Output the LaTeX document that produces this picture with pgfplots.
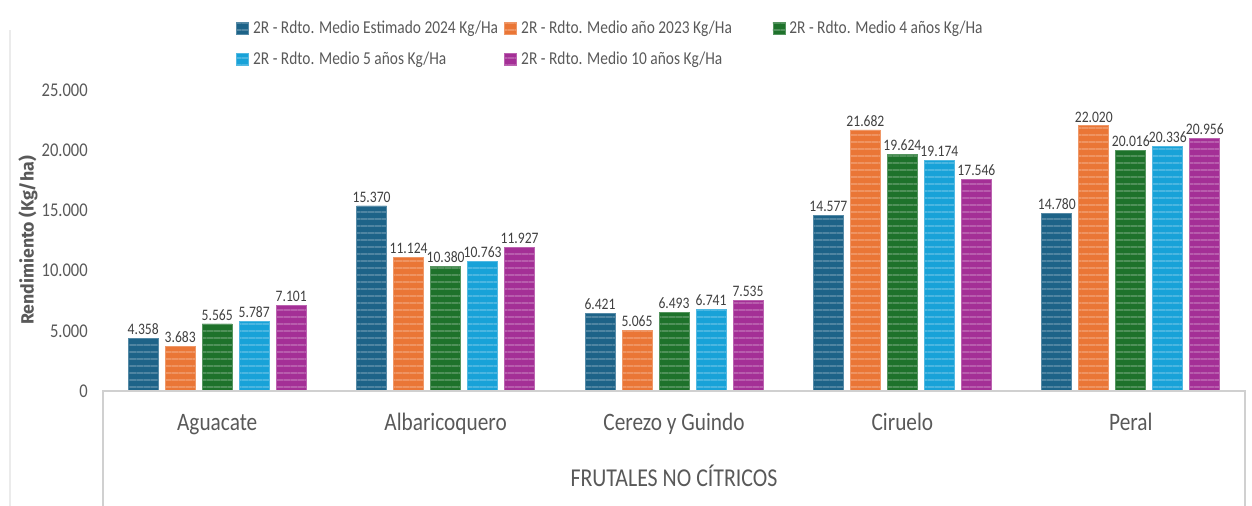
\documentclass[border=0pt]{standalone}
\usepackage{fontspec}
\setmainfont{Carlito}[FakeStretch=0.85]
\newfontfamily\ylabfont{Fira Sans}
\usepackage{pgfplots}
\pgfplotsset{compat=1.18}
\usetikzlibrary{patterns.meta}
\definecolor{cA}{HTML}{1D6388}
\definecolor{cB}{HTML}{EA7636}
\definecolor{cC}{HTML}{1E722B}
\definecolor{cD}{HTML}{18A2D8}
\definecolor{cE}{HTML}{A42F96}
\definecolor{tickc}{HTML}{595959}
\definecolor{labc}{HTML}{404040}
\definecolor{linec}{HTML}{D0D0D0}
\pgfplotstableread{
x s1 s2 s3 s4 s5
0 4358 3683 5565 5787 7101
1 15370 11124 10380 10763 11927
2 6421 5065 6493 6741 7535
3 14577 21682 19624 19174 17546
4 14780 22020 20016 20336 20956
}\datatab
\newcommand\lent[1]{\makebox[185.5pt][l]{#1}}
\tikzset{stripe/.style={fill=#1, draw=#1!75!white, line width=0.6pt,
  postaction={pattern={Lines[angle=0,distance=5.25pt,line width=1.4pt]}, pattern color=#1!78!white}}}
\begin{document}
\begin{tikzpicture}
\path[use as bounding box] (0,0) rectangle (939pt,379.5pt);
\draw[color=black!8, line width=0.8pt] (7.5pt,0) -- (7.5pt,357pt);
\begin{axis}[
  at={(77.25pt,86.25pt)}, anchor=south west,
  width=856.5pt, height=225.75pt, scale only axis,
  ybar=5.25pt, bar width=22.5pt,
  xmin=-0.5, xmax=4.5, ymin=0, ymax=25000,
  axis line style={draw=none},
  major tick length=0pt,
  clip=false,
  xtick={0,1,2,3,4},
  xticklabels={Aguacate,Albaricoquero,Cerezo y Guindo,Ciruelo,Peral},
  x tick label style={font=\fontsize{18.8}{18.8}\selectfont, text=tickc, anchor=base, yshift=-30pt},
  ytick={0,5000,10000,15000,20000,25000},
  scaled y ticks=false,
  /pgf/number format/.cd, 1000 sep={.}, assume math mode=true, fixed, precision=0, /pgfplots/.cd,
  y tick label style={font=\fontsize{14.6}{14.6}\selectfont, text=tickc, anchor=east, inner sep=0pt, xshift=-11.25pt},
  xlabel={FRUTALES NO CÍTRICOS},
  xlabel style={at={(axis description cs:0.5,0)}, anchor=base, yshift=-71.25pt, font=\fontsize{19.3}{19.3}\selectfont, text=tickc},
  ylabel={Rendimiento (Kg/ha)},
  ylabel style={at={(axis description cs:-0.0657,0.5)}, anchor=center, font=\ylabfont\bfseries\fontsize{13.3}{13.3}\selectfont, text=tickc},
  nodes near coords={\pgfmathprintnumber[1000 sep={.},fixed,precision=0,assume math mode=true]{\pgfplotspointmeta}},
  every node near coord/.append style={font=\fontsize{12}{12}\selectfont, text=labc, inner sep=2.5pt},
  legend columns=3,
  legend cell align=left,
  legend style={draw=none, fill=none, inner sep=0pt,
    at={(axis description cs:0.1165,1.23)}, anchor=north west,
    font=\fontsize{13.6}{13.6}\selectfont, text=tickc,
    nodes={inner xsep=3pt, inner ysep=0pt},
    /tikz/every even column/.append style={column sep=0pt},
    row sep=12.5pt},
  legend image code/.code={\fill[#1] (0pt,-4.5pt) rectangle (9pt,4.5pt);},
]
\addplot[stripe=cA] table[x=x,y=s1] {\datatab};
\addplot[stripe=cB] table[x=x,y=s2] {\datatab};
\addplot[stripe=cC] table[x=x,y=s3] {\datatab};
\addplot[stripe=cD] table[x=x,y=s4] {\datatab};
\addplot[stripe=cE] table[x=x,y=s5] {\datatab};
\legend{\lent{2R - Rdto. Medio Estimado 2024 Kg/Ha}, \lent{2R - Rdto. Medio año 2023 Kg/Ha}, \lent{2R - Rdto. Medio 4 años Kg/Ha}, \lent{2R - Rdto. Medio 5 años Kg/Ha}, \lent{2R - Rdto. Medio 10 años Kg/Ha}}
\draw[linec, line width=0.9pt] (rel axis cs:0,-0.382) -- (rel axis cs:0,0) -- (rel axis cs:1,0) -- (rel axis cs:1,-0.382);
\end{axis}
\end{tikzpicture}
\end{document}
